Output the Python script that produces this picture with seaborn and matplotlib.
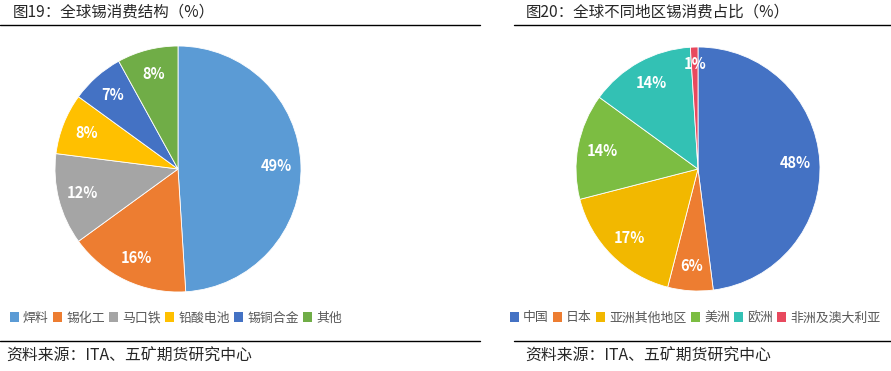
import matplotlib
matplotlib.use('Agg')
import matplotlib.pyplot as plt
import seaborn as sns
from matplotlib.patches import Patch
from matplotlib.lines import Line2D

# left chart data
use_labels = ['焊料', '锡化工', '马口铁', '铅酸电池', '锡铜合金', '其他']
use_values = [49, 16, 12, 8, 7, 8]
use_colors = ['#5B9BD5', '#ED7D31', '#A5A5A5', '#FFC000', '#4472C4', '#70AD47']

# right chart data
region_labels = ['中国', '日本', '亚洲其他地区', '美洲', '欧洲', '非洲及澳大利亚']
region_values = [48, 6, 17, 14, 14, 1]
region_colors = ['#4472C4', '#ED7D31', '#F2B800', '#7CBD42', '#33C1B4', '#E8495E']

titles = ['图19：全球锡消费结构（%）', '图20：全球不同地区锡消费占比（%）']
source = '资料来源：ITA、五矿期货研究中心'

sns.set_style('white')
plt.rcParams['font.family'] = ['Noto Sans CJK SC', 'DejaVu Sans']

W, H = 891, 371
fig = plt.figure(figsize=(W / 100, H / 100), dpi=100)


def px_axes(cx, cy, r):
    return fig.add_axes([(cx - r) / W, (H - cy - r) / H, 2 * r / W, 2 * r / H])


def draw_pie(ax, values, colors):
    wedges, texts, autotexts = ax.pie(
        values, colors=colors, startangle=90, counterclock=False,
        autopct=lambda p: f'{p:.0f}%', pctdistance=0.8,
        wedgeprops=dict(edgecolor='white', linewidth=0.6),
        textprops=dict(color='white', fontsize=10.5, fontweight='bold'))
    ax.set_xlim(-1, 1)
    ax.set_ylim(-1, 1)
    ax.set_aspect('equal')
    ax.axis('off')
    return autotexts


ax1 = px_axes(178, 169, 123)
draw_pie(ax1, use_values, use_colors)
ax2 = px_axes(698, 169, 122)
auto2 = draw_pie(ax2, region_values, region_colors)
# the tiny slice label sits a bit further out
x, y = auto2[-1].get_position()
auto2[-1].set_position((x * 1.08, y * 1.08))


def legend(labels, colors, x, y):
    handles = [Patch(facecolor=c, edgecolor='none') for c in colors]
    fig.legend(handles, labels, loc='center left', bbox_to_anchor=(x / W, 1 - y / H),
               ncol=len(labels), frameon=False, fontsize=9.3, labelcolor='#595959',
               handlelength=0.7, handleheight=0.7, handletextpad=0.3,
               columnspacing=0.35, borderaxespad=0, borderpad=0)


legend(use_labels, use_colors, 10, 318)
legend(region_labels, region_colors, 510, 318)

# titles, rules and source lines
fig.text(13 / W, 1 - 12 / H, titles[0], fontsize=11.2, va='center', ha='left')
fig.text(526 / W, 1 - 12 / H, titles[1], fontsize=11.2, va='center', ha='left')
for x0, x1 in [(0, 480), (514, 891)]:
    for yy in [25, 341]:
        fig.add_artist(Line2D([x0 / W, x1 / W], [1 - yy / H, 1 - yy / H], color='black', linewidth=1))
fig.text(6 / W, 1 - 356 / H, source, fontsize=11.4, va='center', ha='left')
fig.text(525 / W, 1 - 356 / H, source, fontsize=11.4, va='center', ha='left')

fig.savefig('out.png', dpi=100)
